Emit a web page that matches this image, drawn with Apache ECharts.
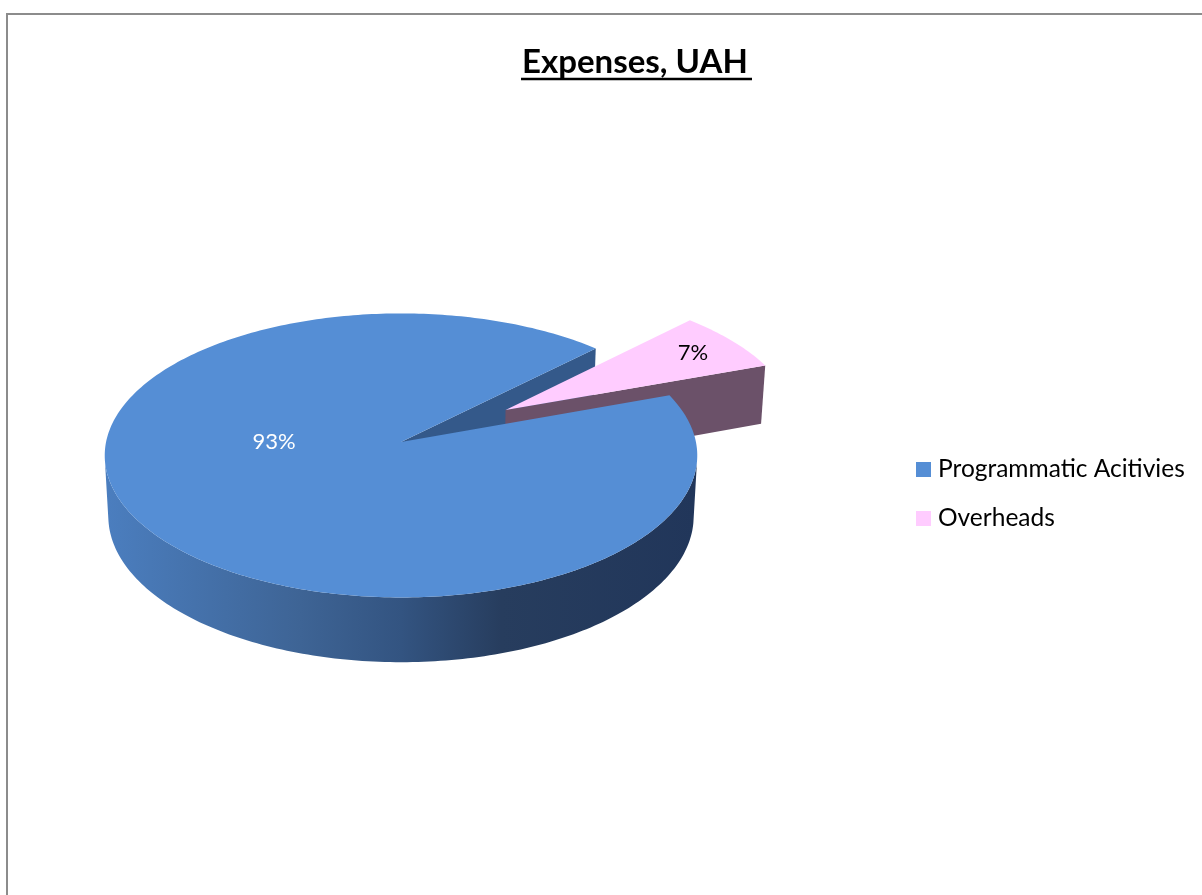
<!DOCTYPE html>
<html>
<head>
<meta charset="utf-8">
<title>Expenses, UAH</title>
<script src="https://cdn.jsdelivr.net/npm/echarts@6/dist/echarts.min.js"></script>
<style>
    html, body { margin: 0; padding: 0; background: #fff; }
    #main { width: 1202px; height: 895px; }
</style>
</head>
<body>
<div id="main"></div>
<script type="text/javascript">
var categories = ['Programmatic Acitivies', 'Overheads'];
var values = [93, 7];
// how far each slice is pulled out (fraction of radius)
var explode = [0, 0.43];

var topColors = ['#558ED5', '#FFCCFF'];
var faceColors = ['#34598A', '#6B5169'];
var labelColors = ['#ffffff', '#000000'];
var sideStops = [
    { offset: 0, color: '#4B7EBF' },
    { offset: 0.33, color: '#3E6495' },
    { offset: 0.5, color: '#335481' },
    { offset: 0.67, color: '#273D5E' },
    { offset: 1, color: '#21365A' }
];

// 3d pie "camera": screen centre, focal length, distance, tilt, thickness
var cam = { cx: 401, cy: 442, f: 2740, dist: 9.29, tilt: 28.5, depth: 0.2365, firstAngle: 70 };
// label spots: angle (deg clockwise from back) or slice middle, and radius
var labelSpots = [{ angle: 270, r: 0.43 }, { r: 0.82 }];

var RAD = Math.PI / 180;
var sinT = Math.sin(cam.tilt * RAD), cosT = Math.cos(cam.tilt * RAD);
var camPos = [0, cam.dist * sinT, cam.dist * cosT];

function sum(arr) {
    return arr.reduce(function (a, b) { return a + b; }, 0);
}

function project(x, y, z) {
    var d = cam.dist - y * sinT - z * cosT;
    var v = y * cosT - z * sinT;
    return [cam.cx + cam.f * x / d, cam.cy - cam.f * v / d];
}

function rim(ox, oz, deg, r, y) {
    var a = deg * RAD;
    return project(ox + r * Math.sin(a), y, oz - r * Math.cos(a));
}

function facing(n, p) {
    return n[0] * (camPos[0] - p[0]) + n[1] * (camPos[1] - p[1]) + n[2] * (camPos[2] - p[2]) > 0;
}

function renderSlice(params, api) {
    var idx = params.seriesIndex;
    var total = sum(values);
    var a0 = cam.firstAngle + 360 * sum(values.slice(0, idx)) / total;
    var a1 = a0 + 360 * api.value(0) / total;
    var mid = (a0 + a1) / 2;
    var ox = explode[idx] * Math.sin(mid * RAD);
    var oz = -explode[idx] * Math.cos(mid * RAD);
    var h = -cam.depth;
    var pulled = explode[idx] > 0;
    var children = [];

    // flat cut faces at both edges of the slice
    [[a0, -1], [a1, 1]].forEach(function (edge) {
        var a = edge[0] * RAD;
        var n = [edge[1] * Math.cos(a), 0, edge[1] * Math.sin(a)];
        if (!facing(n, [ox, 0, oz])) return;
        children.push({
            type: 'polygon',
            z2: pulled ? 2 : 1,
            shape: { points: [
                project(ox, 0, oz), rim(ox, oz, edge[0], 1, 0),
                rim(ox, oz, edge[0], 1, h), project(ox, h, oz)
            ] },
            style: { fill: faceColors[idx] }
        });
    });

    // outer wall, only the part turned to the viewer
    var step = Math.max(1, Math.ceil(a1 - a0));
    var topPts = [], botPts = [];
    for (var k = 0; k <= step; k++) {
        var t = a0 + (a1 - a0) * k / step;
        var ar = t * RAD;
        var n = [Math.sin(ar), 0, -Math.cos(ar)];
        var p = [ox + n[0], 0, oz + n[2]];
        if (facing(n, p)) {
            topPts.push(rim(ox, oz, t, 1, 0));
            botPts.push(rim(ox, oz, t, 1, h));
        }
    }
    if (topPts.length > 1) {
        var wall = topPts.concat(botPts.reverse());
        var xs = wall.map(function (q) { return q[0]; });
        children.push({
            type: 'polygon',
            z2: 3,
            shape: { points: wall },
            style: {
                fill: pulled ? faceColors[idx] : new echarts.graphic.LinearGradient(
                    Math.min.apply(null, xs), 0, Math.max.apply(null, xs), 0, sideStops, true)
            }
        });
    }

    // top face
    var top = [project(ox, 0, oz)];
    for (var j = 0; j <= step; j++) {
        top.push(rim(ox, oz, a0 + (a1 - a0) * j / step, 1, 0));
    }
    children.push({
        type: 'polygon',
        z2: pulled ? 5 : 4,
        shape: { points: top },
        style: { fill: topColors[idx] }
    });

    // percentage label
    var spot = labelSpots[idx];
    var lp = rim(ox, oz, spot.angle != null ? spot.angle : mid, spot.r, 0);
    children.push({
        type: 'text',
        z2: 10,
        style: {
            x: lp[0], y: lp[1],
            text: Math.round(api.value(0) / total * 100) + '%',
            fill: labelColors[idx],
            font: '22px Lato',
            align: 'center',
            verticalAlign: 'middle'
        }
    });

    return { type: 'group', children: children };
}

var myChart = echarts.init(document.getElementById('main'), null, { renderer: 'canvas' });

var option = {
    backgroundColor: '#ffffff',
    animation: false,
    title: {
        text: 'Expenses, UAH',
        left: 517,
        top: 41,
        textStyle: { fontFamily: 'Lato', fontSize: 33, fontWeight: 'bold', color: '#000' }
    },
    legend: {
        orient: 'vertical',
        left: 916,
        top: 457,
        padding: 0,
        itemWidth: 15,
        itemHeight: 15,
        itemGap: 24,
        icon: 'rect',
        data: categories,
        textStyle: { fontFamily: 'Lato', fontSize: 24.5, color: '#000', lineHeight: 24, padding: [0, 0, 0, 2] }
    },
    graphic: [
        {
            type: 'polyline',
            shape: { points: [[7, 895], [7, 14], [1202, 14]] },
            style: { stroke: '#8c8c8c', lineWidth: 2, fill: null }
        },
        {
            type: 'line',
            shape: { x1: 521, y1: 79, x2: 752, y2: 79 },
            style: { stroke: '#000', lineWidth: 2.5 }
        }
    ],
    series: categories.map(function (name, i) {
        return {
            type: 'custom',
            name: name,
            coordinateSystem: 'none',
            renderItem: renderSlice,
            itemStyle: { color: topColors[i] },
            data: [values[i]]
        };
    })
};

myChart.setOption(option);
</script>
</body>
</html>
